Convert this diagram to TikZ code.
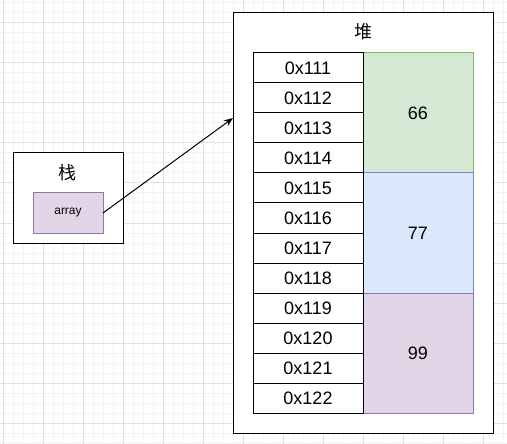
\documentclass[tikz,border=0pt]{standalone}
\usepackage{fontspec}
\setmainfont{Liberation Sans}
\newfontfamily\cjk{Noto Sans CJK SC}
\usetikzlibrary{arrows.meta,positioning}
\definecolor{gridminor}{RGB}{243,243,243}
\definecolor{gridmajor}{RGB}{224,224,224}
\definecolor{greenfill}{HTML}{D5E8D4}
\definecolor{greenline}{HTML}{82B366}
\definecolor{bluefill}{HTML}{DAE8FC}
\definecolor{blueline}{HTML}{6C8EBF}
\definecolor{purplefill}{HTML}{E1D5E7}
\definecolor{purpleline}{HTML}{9673A6}
\tikzset{
  box/.style={draw, line width=1pt, inner sep=0pt, outer sep=0pt},
  addr/.style={box, minimum width=110pt, minimum height=30pt, font=\fontsize{18}{18}\selectfont},
  val/.style={box, minimum width=110pt, minimum height=120pt, font=\fontsize{18}{18}\selectfont},
  title/.style={font=\cjk\fontsize{18}{18}\selectfont, inner sep=0pt}
}
\begin{document}
\begin{tikzpicture}[x=1pt, y=-1pt]
  \useasboundingbox (0,0) rectangle (507,444);
  \foreach \i in {3,13,...,503} \draw[gridminor, line width=1pt] (\i,0) -- (\i,444);
  \foreach \j in {3,13,...,443} \draw[gridminor, line width=1pt] (0,\j) -- (507,\j);
  \foreach \i in {3,43,...,503} \draw[gridmajor, line width=1pt] (\i,0) -- (\i,444);
  \foreach \j in {23,63,...,443} \draw[gridmajor, line width=1pt] (0,\j) -- (507,\j);

  \node[box, fill=white, minimum width=260pt, minimum height=420pt] (heap) at (363,223) {};
  \node[title] (heaplabel) at (363,32) {堆};
  \node[val, fill=greenfill, draw=greenline] (v66) at (418,113) {66};
  \node[val, fill=bluefill, draw=blueline, below=0pt of v66] (v77) {77};
  \node[val, fill=purplefill, draw=purpleline, below=0pt of v77] (v99) {99};
  \foreach \n [count=\k from 0] in {111,112,113,114,115,116,117,118,119,120,121,122}
    \node[addr, fill=white] (a\n) at (308,68+30*\k) {0x\n};

  \node[box, fill=white, minimum width=110pt, minimum height=90pt] (stack) at (68,198) {};
  \node[title] (stacklabel) at (68,173) {栈};
  \node[box, fill=purplefill, draw=purpleline, minimum width=70pt, minimum height=40pt,
    font=\fontsize{12}{12}\selectfont] (array) at (68,213) {array};

  \coordinate (tip) at (233,118);
  \draw[line width=1pt, -{Stealth[length=9pt, width=7pt]}] (array.east) -- (tip);
\end{tikzpicture}
\end{document}
